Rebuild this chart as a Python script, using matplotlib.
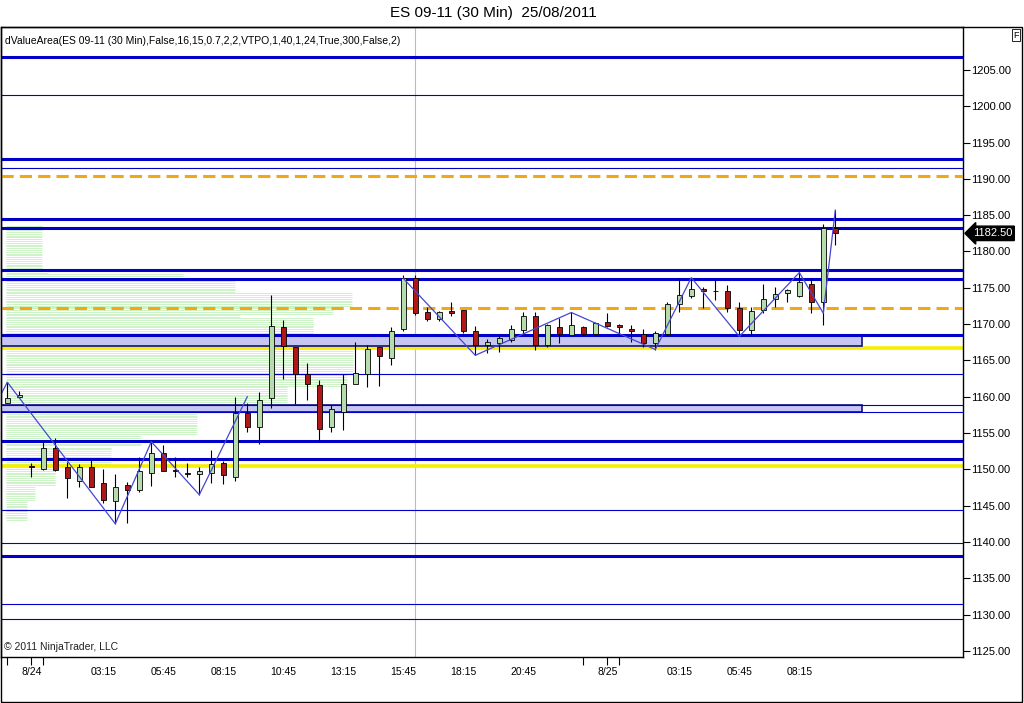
import numpy as np
import matplotlib
matplotlib.use("Agg")
import matplotlib.pyplot as plt
from matplotlib.patches import Rectangle

plt.rcParams['font.family'] = ['Liberation Sans', 'DejaVu Sans']

# 30 min bars, index 0 .. 69
opens = [1159.1, 1160.0, 1150.4, 1150.1, 1153.0, 1150.3, 1148.4, 1150.3, 1148.1, 1145.7,
         1147.8, 1147.2, 1149.5, 1152.2, 1149.9, 1149.5, 1149.3, 1149.5, 1150.9, 1149.0,
         1157.8, 1155.8, 1159.8, 1169.6, 1166.9, 1163.1, 1161.6, 1155.8, 1157.9, 1161.7,
         1163.1, 1166.9, 1165.3, 1169.3, 1176.3, 1171.6, 1170.7, 1171.8, 1171.9, 1169.1,
         1167.1, 1167.4, 1167.8, 1169.2, 1171.1, 1167.1, 1169.6, 1168.5, 1169.6, 1168.7,
         1170.3, 1169.9, 1169.3, 1168.7, 1167.4, 1168.7, 1172.8, 1173.9, 1174.9, 1174.6,
         1174.6, 1172.2, 1169.2, 1171.9, 1173.4, 1174.3, 1173.9, 1175.5, 1173.0, 1183.3]
closes = [1159.8, 1160.2, 1150.3, 1153.0, 1149.9, 1148.8, 1150.3, 1147.6, 1145.8, 1147.5,
          1147.2, 1149.8, 1152.2, 1149.7, 1149.8, 1149.4, 1149.8, 1150.8, 1149.2, 1157.7,
          1155.8, 1159.5, 1169.8, 1167.0, 1163.1, 1161.7, 1155.5, 1158.3, 1161.7, 1163.2,
          1166.6, 1165.6, 1169.0, 1176.3, 1171.5, 1170.7, 1171.6, 1171.5, 1169.0, 1167.1,
          1167.6, 1168.1, 1169.3, 1171.1, 1167.1, 1169.9, 1168.7, 1169.9, 1168.7, 1170.2,
          1169.8, 1169.6, 1169.0, 1167.4, 1168.8, 1172.8, 1174.0, 1174.8, 1174.6, 1174.6,
          1172.2, 1169.2, 1171.8, 1173.5, 1174.2, 1174.7, 1175.8, 1173.0, 1183.3, 1182.5]
highs = [1162.0, 1160.8, 1150.9, 1153.7, 1154.3, 1151.0, 1150.8, 1151.3, 1150.0, 1149.4,
         1148.2, 1151.7, 1153.8, 1153.3, 1151.7, 1150.9, 1150.3, 1152.6, 1151.1, 1159.9,
         1159.1, 1160.6, 1174.0, 1170.6, 1166.9, 1164.7, 1162.3, 1158.9, 1163.1, 1167.6,
         1167.1, 1166.9, 1169.6, 1176.8, 1176.8, 1172.4, 1171.8, 1173.0, 1172.0, 1169.7,
         1167.9, 1168.5, 1169.9, 1171.6, 1171.6, 1170.0, 1170.8, 1171.6, 1169.8, 1170.3,
         1171.5, 1170.0, 1169.9, 1169.3, 1169.1, 1173.1, 1176.2, 1176.4, 1175.1, 1176.1,
         1175.4, 1173.0, 1172.3, 1175.5, 1175.1, 1174.9, 1177.2, 1176.2, 1183.8, 1185.7]
lows = [1159.1, 1159.8, 1149.0, 1149.9, 1149.7, 1146.0, 1147.5, 1147.5, 1145.4, 1142.5,
        1142.6, 1146.9, 1147.7, 1149.7, 1149.0, 1149.0, 1146.5, 1148.1, 1148.0, 1148.4,
        1155.2, 1153.5, 1158.5, 1162.4, 1159.0, 1159.5, 1153.9, 1155.2, 1155.4, 1161.7,
        1161.3, 1161.5, 1164.4, 1169.0, 1171.3, 1170.4, 1170.4, 1171.1, 1168.8, 1165.7,
        1166.0, 1166.2, 1167.6, 1168.6, 1166.5, 1166.9, 1167.4, 1168.3, 1168.5, 1168.5,
        1169.6, 1168.6, 1167.6, 1166.9, 1166.4, 1168.5, 1171.7, 1173.6, 1172.2, 1173.3,
        1171.7, 1168.7, 1168.5, 1171.5, 1172.3, 1173.0, 1173.8, 1171.5, 1169.9, 1180.9]

# x axis labels (bar index -> text)
label_bars = [2, 8, 13, 18, 23, 28, 33, 38, 43, 50, 56, 61, 66]
label_text = ['8/24', '03:15', '05:45', '08:15', '10:45', '13:15', '15:45',
              '18:15', '20:45', '8/25', '03:15', '05:45', '08:15']
session_ticks = [0, 2, 3, 48, 50, 51]

# zigzag swings
zz1_bars = [-1, 0, 9, 12, 16, 20]
zz1_price = [1158.8, 1162.0, 1142.5, 1153.8, 1146.5, 1160.0]
zz2_bars = [33, 39, 47, 54, 57, 61, 66, 68, 69]
zz2_price = [1176.3, 1165.7, 1171.6, 1166.5, 1176.4, 1168.3, 1177.1, 1171.5, 1185.7]

# value area levels
thick_levels = [1206.8, 1192.7, 1184.5, 1183.2, 1177.4, 1176.2, 1168.5, 1153.9, 1151.4, 1138.1]
thin_levels = [1201.6, 1191.5, 1163.1, 1144.4, 1139.9, 1131.4, 1129.4]
orange_levels = [1190.4, 1172.2]
yellow_levels = [1166.7, 1150.5]
band_lo = [1167.0, 1157.9]
band_hi = [1168.5, 1158.9]
band_end = 71.2

# volume profile segments (price top, price bottom, length in bars)
prof_top = [1183.5, 1177.6, 1176.9, 1176.5, 1175.9, 1174.3, 1172.4, 1171.3, 1170.8, 1168.6,
            1166.8, 1163.1, 1161.3, 1159.1, 1154.7, 1153.2, 1150.3, 1147.7, 1145.6]
prof_bot = [1177.7, 1177.0, 1176.6, 1176.1, 1174.4, 1172.5, 1171.4, 1171.0, 1168.8, 1167.0,
            1163.3, 1161.5, 1159.3, 1154.9, 1153.3, 1150.5, 1147.8, 1145.8, 1143.0]
prof_len = [2.9, 3.4, 14.6, 16.1, 19.0, 28.7, 27.1, 19.4, 25.5, 19.4,
            28.8, 28.3, 23.3, 15.8, 11.1, 8.6, 4.0, 2.3, 1.6]

blue = '#0000c8'
fig = plt.figure(figsize=(10.24, 7.03), dpi=100)
ax = fig.add_axes([1 / 1024, 46 / 703, 962 / 1024, 630 / 703])
ax.set_xlim(-0.525, 79.64)
ax.set_ylim(1124.15, 1210.92)

# volume profile
for top, bot, ln in zip(prof_top, prof_bot, prof_len):
    for p in np.arange(bot, top + 0.01, 0.25):
        ax.hlines(p, -0.1, ln, color='#c0f0b8', lw=0.55, zorder=1)

# crosshair
ax.axvline(34.0, color='#b4bccc', lw=0.8, zorder=1)

# levels
for lv in yellow_levels:
    ax.axhline(lv, color='#f6f000', lw=2.6, zorder=2)
for lo, hi in zip(band_lo, band_hi):
    ax.add_patch(Rectangle((-1, lo), band_end + 1, hi - lo, facecolor='#c6c6f2',
                           edgecolor='#101080', lw=1.2, zorder=3))
ax.axhline(band_lo[1], color=blue, lw=0.8, zorder=3)
ax.axhline(band_hi[1], color=blue, lw=0.8, zorder=3)
for lv in thick_levels:
    ax.axhline(lv, color=blue, lw=2.2, zorder=4)
for lv in thin_levels:
    ax.axhline(lv, color=blue, lw=0.8, zorder=4)
for lv in orange_levels:
    ax.axhline(lv, color='#f0a818', lw=2.2, ls=(0, (4, 2)), zorder=4)

# candles
x = np.arange(len(opens))
o = np.array(opens)
c = np.array(closes)
ax.vlines(x, lows, highs, color='black', lw=0.8, zorder=5)
up = c >= o
ax.bar(x[up], c[up] - o[up], bottom=o[up], width=0.42, color='#b4dcac',
       edgecolor='black', lw=0.6, zorder=6)
ax.bar(x[~up], c[~up] - o[~up], bottom=o[~up], width=0.42, color='#b01818',
       edgecolor='black', lw=0.6, zorder=6)

# zigzag
ax.plot(zz1_bars, zz1_price, color='#4646d2', lw=0.9, zorder=7)
ax.plot(zz2_bars, zz2_price, color='#4646d2', lw=0.9, zorder=7)

# axes styling
ax.yaxis.tick_right()
ax.set_yticks(np.arange(1125, 1206, 5))
ax.set_yticklabels(['%.2f' % v for v in np.arange(1125, 1206, 5)])
ax.tick_params(axis='y', direction='out', length=5, width=0.8, pad=1, labelsize=8)
ax.set_xticks(label_bars)
ax.set_xticklabels(label_text)
ax.tick_params(axis='x', length=0, pad=7, labelsize=7.5)
ax.xaxis.remove_overlapping_locs = False
ax.set_xticks(session_ticks, minor=True)
ax.tick_params(axis='x', which='minor', direction='out', length=6, width=0.8)
for s in ax.spines.values():
    s.set_linewidth(1.0)

ax.text(0.004, 0.985, 'dValueArea(ES 09-11 (30 Min),False,16,15,0.7,2,2,VTPO,1,40,1,24,True,300,False,2)',
        transform=ax.transAxes, fontsize=7.5, va='top', ha='left')
ax.text(0.003, 0.008, '\u00a9 2011 NinjaTrader, LLC', transform=ax.transAxes,
        fontsize=7.5, va='bottom', ha='left', color='#202020')

# last price marker
ax.annotate('1182.50', xy=(1.0, 1182.5), xycoords=('axes fraction', 'data'),
            xytext=(7, 0), textcoords='offset points', va='center', ha='left',
            fontsize=8, color='white', annotation_clip=False,
            bbox=dict(boxstyle='larrow,pad=0.2', fc='black', ec='black'))

fig.text(493 / 1024, 1 - 13 / 703, 'ES 09-11 (30 Min)  25/08/2011', ha='center',
         va='center', fontsize=11)
fig.text(1016 / 1024, 1 - 35 / 703, 'F', ha='center', va='center', fontsize=6.5,
         bbox=dict(boxstyle='square,pad=0.15', fc='white', ec='black', lw=0.6))
fig.add_artist(Rectangle((1 / 1024, 1 / 703), 1021 / 1024, 675 / 703, fill=False,
                         ec='black', lw=1.0, transform=fig.transFigure))

fig.savefig('out.png', dpi=100)
